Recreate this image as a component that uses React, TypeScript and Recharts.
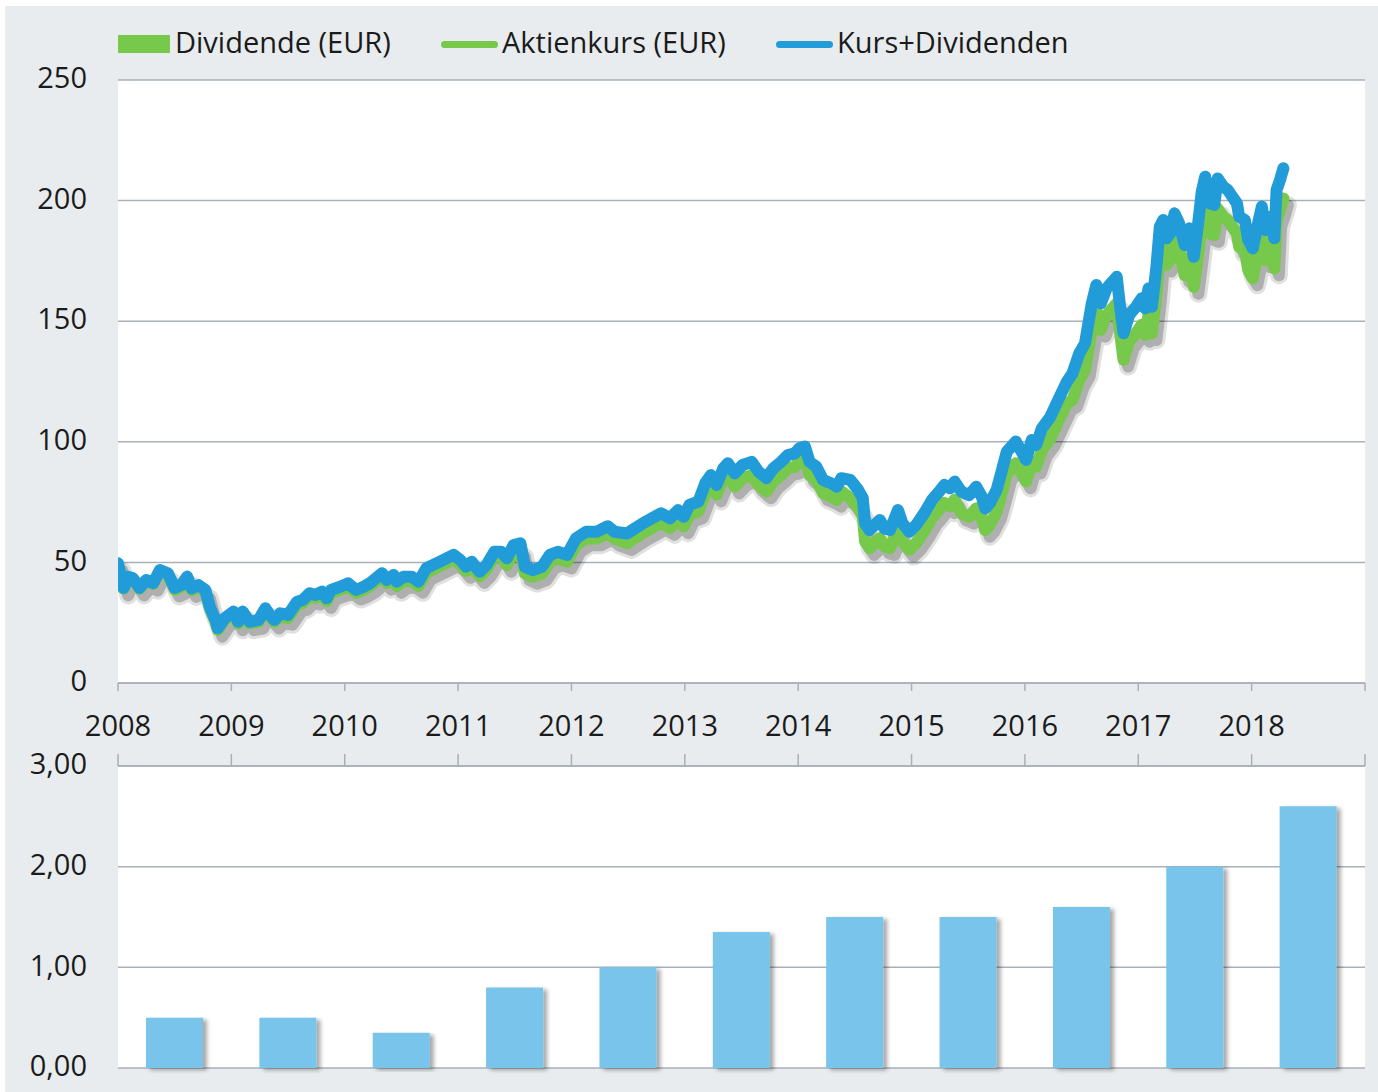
import React from 'react';
import { LineChart, Line, BarChart, Bar, XAxis, YAxis, CartesianGrid } from 'recharts';

const zeitpunkte = [
  2008.0, 2008.05, 2008.09, 2008.13, 2008.19, 2008.25, 2008.31, 2008.37, 2008.44, 2008.5,
  2008.56, 2008.61, 2008.65, 2008.71, 2008.77, 2008.81, 2008.86, 2008.88, 2008.94, 2009.02,
  2009.06, 2009.1, 2009.16, 2009.24, 2009.3, 2009.34, 2009.38, 2009.43, 2009.5, 2009.58,
  2009.63, 2009.69, 2009.74, 2009.8, 2009.84, 2009.88, 2009.96, 2010.03, 2010.1, 2010.15,
  2010.22, 2010.33, 2010.37, 2010.43, 2010.46, 2010.52, 2010.59, 2010.65, 2010.72, 2010.84,
  2010.96, 2011.02, 2011.07, 2011.12, 2011.19, 2011.25, 2011.32, 2011.38, 2011.43, 2011.49,
  2011.55, 2011.59, 2011.66, 2011.74, 2011.81, 2011.88, 2011.96, 2012.04, 2012.13, 2012.22,
  2012.32, 2012.38, 2012.49, 2012.56, 2012.63, 2012.71, 2012.79, 2012.87, 2012.94, 2012.99,
  2013.04, 2013.12, 2013.18, 2013.23, 2013.28, 2013.34, 2013.38, 2013.44, 2013.51, 2013.59,
  2013.65, 2013.72, 2013.78, 2013.85, 2013.91, 2013.97, 2014.01, 2014.06, 2014.1, 2014.16,
  2014.22, 2014.29, 2014.34, 2014.38, 2014.46, 2014.53, 2014.57, 2014.59, 2014.63, 2014.72,
  2014.76, 2014.81, 2014.88, 2014.92, 2014.98, 2015.04, 2015.12, 2015.18, 2015.23, 2015.29,
  2015.34, 2015.38, 2015.44, 2015.51, 2015.57, 2015.62, 2015.65, 2015.69, 2015.75, 2015.79,
  2015.84, 2015.92, 2015.97, 2016.01, 2016.06, 2016.1, 2016.15, 2016.22, 2016.31, 2016.37,
  2016.42, 2016.48, 2016.53, 2016.56, 2016.59, 2016.63, 2016.67, 2016.72, 2016.76, 2016.81,
  2016.84, 2016.87, 2016.92, 2016.98, 2017.03, 2017.06, 2017.09, 2017.12, 2017.14, 2017.16,
  2017.19, 2017.22, 2017.25, 2017.29, 2017.32, 2017.36, 2017.41, 2017.45, 2017.49, 2017.53,
  2017.56, 2017.59, 2017.63, 2017.67, 2017.7, 2017.75, 2017.79, 2017.83, 2017.87, 2017.89,
  2017.94, 2017.97, 2018.01, 2018.05, 2018.09, 2018.12, 2018.16, 2018.2, 2018.22, 2018.25,
  2018.28,
];

// Aktienkurs (EUR) - grüne Linie
const aktienkurs = [
  49.3, 39.1, 43.7, 43.2, 39.1, 42.4, 41.1, 46.5, 44.8, 38.7,
  39.9, 43.4, 38.5, 39.9, 37.9, 30.9, 25.4, 22.0, 26.1, 28.9,
  24.7, 28.9, 24.7, 25.4, 30.3, 27.5, 25.4, 27.7, 27.0, 32.5,
  33.2, 36.0, 35.3, 36.7, 33.9, 37.4, 38.7, 40.1, 37.4, 38.3,
  40.1, 44.3, 41.5, 43.0, 40.2, 42.3, 42.3, 40.2, 45.8, 48.5,
  51.3, 49.2, 46.4, 48.5, 44.3, 47.1, 52.6, 52.6, 48.9, 54.4,
  55.1, 45.4, 44.0, 45.4, 50.3, 51.6, 50.3, 57.2, 59.9, 59.9,
  62.2, 59.9, 58.0, 60.1, 62.2, 64.3, 66.4, 64.3, 67.7, 64.9,
  69.8, 71.2, 78.8, 82.2, 78.1, 85.0, 87.1, 81.4, 84.9, 86.2,
  82.1, 79.4, 83.5, 86.2, 89.0, 89.7, 91.8, 92.5, 86.2, 84.2,
  78.7, 77.3, 75.9, 79.4, 76.7, 72.5, 69.1, 58.7, 55.9, 60.1,
  56.6, 55.9, 64.2, 58.7, 55.2, 58.0, 63.5, 68.4, 71.1, 74.6,
  73.2, 76.0, 70.3, 68.9, 72.4, 68.2, 63.4, 65.5, 71.0, 77.9,
  86.9, 91.1, 86.9, 83.5, 91.7, 89.7, 96.6, 101.0, 110.0, 115.9,
  117.4, 125.7, 129.8, 138.1, 146.4, 154.0, 146.4, 152.6, 154.7, 157.4,
  145.0, 134.0, 141.6, 145.0, 148.5, 144.3, 152.6, 145.0, 153.3, 161.6,
  178.2, 181.0, 173.4, 176.1, 183.7, 179.6, 169.1, 176.0, 164.2, 178.8,
  191.2, 197.4, 186.4, 185.7, 196.7, 193.3, 191.9, 189.1, 186.4, 180.8,
  179.5, 171.2, 167.7, 176.7, 185.0, 175.3, 180.8, 171.9, 191.9, 196.0,
  200.9,
];

// Kurs+Dividenden - blaue Linie
const kursDividenden = [
  49.6, 39.4, 44.0, 43.5, 39.4, 42.7, 41.4, 46.8, 45.5, 39.4,
  40.6, 44.1, 39.2, 40.6, 38.6, 31.6, 26.1, 22.7, 26.8, 29.6,
  25.4, 29.6, 25.4, 26.1, 31.0, 28.2, 26.1, 28.9, 28.2, 33.7,
  34.4, 37.2, 36.5, 37.9, 35.1, 38.6, 39.9, 41.3, 38.6, 39.5,
  41.3, 45.5, 42.7, 44.8, 42.0, 44.1, 44.1, 42.0, 47.6, 50.3,
  53.1, 51.0, 48.2, 50.3, 46.1, 48.9, 54.4, 54.4, 51.7, 57.2,
  57.9, 48.2, 46.8, 48.2, 53.1, 54.4, 53.1, 60.0, 62.7, 62.7,
  65.0, 62.7, 62.0, 64.1, 66.2, 68.3, 70.4, 68.3, 71.7, 68.9,
  73.8, 75.2, 82.8, 86.2, 82.1, 89.0, 91.1, 86.9, 90.4, 91.7,
  87.6, 84.9, 89.0, 91.7, 94.5, 95.2, 97.3, 98.0, 91.7, 89.7,
  84.2, 82.8, 81.4, 84.9, 84.2, 80.0, 76.6, 66.2, 63.4, 67.6,
  64.1, 63.4, 71.7, 66.2, 62.7, 65.5, 71.0, 75.9, 78.6, 82.1,
  80.7, 83.5, 79.3, 77.9, 81.4, 77.2, 72.4, 74.5, 80.0, 86.9,
  95.9, 100.1, 95.9, 92.5, 100.7, 98.7, 105.6, 110.0, 119.0, 124.9,
  128.4, 136.7, 140.8, 149.1, 157.4, 165.0, 157.4, 163.6, 165.7, 168.4,
  156.0, 145.0, 152.6, 156.0, 159.5, 155.3, 163.6, 156.0, 164.3, 172.6,
  189.2, 192.0, 184.4, 187.1, 194.7, 190.6, 181.6, 188.5, 176.7, 191.3,
  203.7, 209.9, 198.9, 198.2, 209.2, 205.8, 204.4, 201.6, 198.9, 193.3,
  192.0, 183.7, 180.2, 189.2, 197.5, 187.8, 193.3, 184.4, 204.4, 208.5,
  213.4,
];

// Dividende je Geschäftsjahr (EUR)
const dividendenJahre = [2008, 2009, 2010, 2011, 2012, 2013, 2014, 2015, 2016, 2017, 2018];
const dividenden = [0.5, 0.5, 0.35, 0.8, 1.0, 1.35, 1.5, 1.5, 1.6, 2.0, 2.6];

const jahresTicks = [2008, 2009, 2010, 2011, 2012, 2013, 2014, 2015, 2016, 2017, 2018, 2019];
const kursTicks = [0, 50, 100, 150, 200, 250];
const dividendenTicks = [0, 1, 2, 3];

const GREEN = '#77c94b';
const BLUE = '#219cd8';
const BAR = '#78c4ea';
const GRID = '#a7b1b8';
const BG = '#e8ecee';
const TEXT = '#1b1b1b';
const FONT = '"Open Sans", "Noto Sans", sans-serif';
const FS = 29;

const kursDaten = zeitpunkte.map((t, i) => ({ t, kurs: aktienkurs[i], kursDiv: kursDividenden[i] }));
// Balken stehen jeweils in der Mitte ihres Jahres
const dividendenDaten = dividendenJahre.map((jahr, i) => ({ mitte: jahr + 0.5, dividende: dividenden[i] }));

const xTickStyle = { fill: TEXT, fontSize: FS, fontFamily: FONT };
const yTickStyle = { fill: TEXT, fontSize: FS, fontFamily: FONT, dy: -2 };

function LegendItem({ left, symbol, label }: { left: number; symbol: 'rect' | 'green' | 'blue'; label: string }) {
  let mark: React.ReactNode;
  if (symbol === 'rect') {
    mark = <div style={{ position: 'absolute', left: 0, top: 7, width: 52, height: 18, background: GREEN }} />;
  } else {
    mark = (
      <div style={{ position: 'absolute', left: 0, top: 13, width: 57, height: 7, borderRadius: 4, background: symbol === 'green' ? GREEN : BLUE }} />
    );
  }
  return (
    <div style={{ position: 'absolute', left, top: 28, height: 32 }}>
      {mark}
      <span style={{ position: 'absolute', left: symbol === 'rect' ? 57 : 61, top: -1, fontSize: FS, lineHeight: '29px', whiteSpace: 'nowrap', color: TEXT, fontFamily: FONT }}>
        {label}
      </span>
    </div>
  );
}

export default function App() {
  return (
    <div style={{ position: 'absolute', left: 0, top: 0, width: 1378, height: 1092, background: '#fff', fontFamily: FONT }}>
      <svg width={10} height={10} style={{ position: 'absolute', left: 0, top: 0 }} aria-hidden="true">
        <defs>
          <filter id="balkenSchatten" x="-10%" y="-5%" width="130%" height="115%">
            <feGaussianBlur in="SourceAlpha" stdDeviation="2" />
            <feOffset dx="4" dy="2" result="versatz" />
            <feComponentTransfer>
              <feFuncA type="linear" slope="0.35" />
            </feComponentTransfer>
            <feMerge>
              <feMergeNode />
              <feMergeNode in="SourceGraphic" />
            </feMerge>
          </filter>
        </defs>
      </svg>
      <div style={{ position: 'absolute', left: 5, top: 6, width: 1373, height: 1086, background: BG }} />

      <LegendItem left={118} symbol="rect" label="Dividende (EUR)" />
      <LegendItem left={441} symbol="green" label="Aktienkurs (EUR)" />
      <LegendItem left={776} symbol="blue" label="Kurs+Dividenden" />

      <div style={{ position: 'absolute', left: 0, top: 0 }}>
        <LineChart width={1378} height={745} data={kursDaten} margin={{ top: 80, right: 13, left: 0, bottom: 12 }}>
          <CartesianGrid vertical={false} fill="#fff" stroke={GRID} strokeWidth={1.5} />
          <XAxis
            dataKey="t"
            type="number"
            domain={[2008, 2019]}
            ticks={jahresTicks}
            interval={0}
            allowDataOverflow
            tickFormatter={(v: number) => (v === 2019 ? '' : String(v))}
            height={50}
            tickSize={8}
            tickMargin={24}
            stroke={GRID}
            strokeWidth={1.5}
            tick={xTickStyle}
          />
          {/* leicht versetzte Achsen für den Schlagschatten der Kurslinie */}
          <XAxis xAxisId="schatten" dataKey="t" type="number" domain={[2007.96, 2018.96]} allowDataOverflow hide />
          <YAxis
            domain={[0, 250]}
            ticks={kursTicks}
            interval={0}
            width={118}
            axisLine={false}
            tickLine={false}
            tickSize={0}
            tickMargin={31}
            tick={yTickStyle}
          />
          <YAxis yAxisId="schatten" domain={[2.8, 252.8]} allowDataOverflow hide />
          <Line
            xAxisId="schatten"
            yAxisId="schatten"
            type="linear"
            dataKey="kurs"
            stroke="#000"
            strokeOpacity={0.12}
            strokeWidth={18}
            strokeLinejoin="round"
            strokeLinecap="round"
            dot={false}
            legendType="none"
            isAnimationActive={false}
          />
          <Line
            xAxisId="schatten"
            yAxisId="schatten"
            type="linear"
            dataKey="kurs"
            stroke="#000"
            strokeOpacity={0.22}
            strokeWidth={12}
            strokeLinejoin="round"
            strokeLinecap="round"
            dot={false}
            legendType="none"
            isAnimationActive={false}
          />
          <Line
            type="linear"
            dataKey="kurs"
            name="Aktienkurs (EUR)"
            stroke={GREEN}
            strokeWidth={12}
            strokeLinejoin="round"
            strokeLinecap="round"
            dot={false}
            isAnimationActive={false}
          />
          <Line
            type="linear"
            dataKey="kursDiv"
            name="Kurs+Dividenden"
            stroke={BLUE}
            strokeWidth={12}
            strokeLinejoin="round"
            strokeLinecap="round"
            dot={false}
            isAnimationActive={false}
          />
        </LineChart>
      </div>

      <div style={{ position: 'absolute', left: 0, top: 740 }}>
        <BarChart width={1378} height={352} data={dividendenDaten} margin={{ top: 0, right: 13, left: 0, bottom: 24 }}>
          <CartesianGrid vertical={false} fill="#fff" stroke={GRID} strokeWidth={1.5} />
          <XAxis
            dataKey="mitte"
            orientation="top"
            type="number"
            domain={[2008, 2019]}
            ticks={jahresTicks}
            interval={0}
            allowDataOverflow
            tickFormatter={() => ''}
            height={26}
            tickSize={12}
            stroke={GRID}
            strokeWidth={1.5}
          />
          <YAxis
            domain={[0, 3]}
            ticks={dividendenTicks}
            interval={0}
            width={118}
            axisLine={false}
            tickLine={false}
            tickSize={0}
            tickMargin={31}
            tick={yTickStyle}
            tickFormatter={(v: number) => v.toFixed(2).replace('.', ',')}
          />
          <Bar dataKey="dividende" name="Dividende (EUR)" fill={BAR} barSize={57} filter="url(#balkenSchatten)" isAnimationActive={false} />
        </BarChart>
      </div>
    </div>
  );
}
